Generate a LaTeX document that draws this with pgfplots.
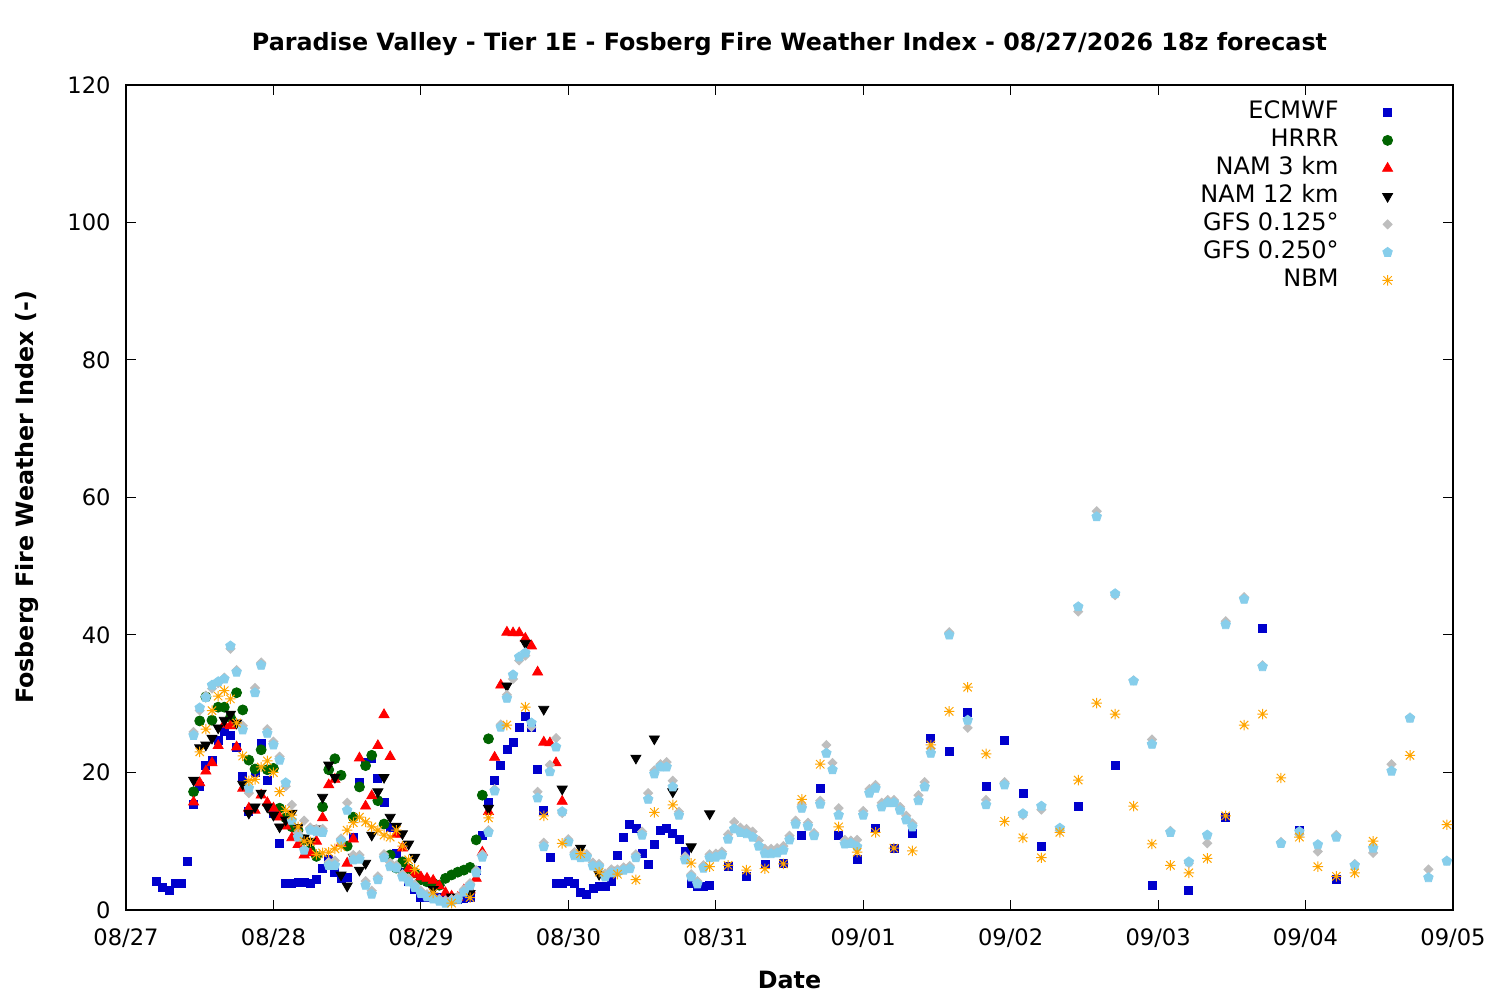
\documentclass[border=0pt]{standalone}
\usepackage{fontspec}
\setmainfont{DejaVu Sans}
\usepackage{pgfplots}
\pgfplotsset{compat=1.18}
\usetikzlibrary{plotmarks}
\definecolor{cEC}{HTML}{0000CC}
\definecolor{cHR}{HTML}{006400}
\definecolor{cN3}{HTML}{FF0000}
\definecolor{cN12}{HTML}{000000}
\definecolor{cG1}{HTML}{BEBEBE}
\definecolor{cG2}{HTML}{87CEEB}
\definecolor{cNB}{HTML}{FFA500}
\pgfdeclareplotmark{gpstar}{%
  \pgfpathmoveto{\pgfqpoint{-\pgfplotmarksize}{0pt}}\pgfpathlineto{\pgfqpoint{\pgfplotmarksize}{0pt}}%
  \pgfpathmoveto{\pgfqpoint{0pt}{-\pgfplotmarksize}}\pgfpathlineto{\pgfqpoint{0pt}{\pgfplotmarksize}}%
  \pgfpathmoveto{\pgfqpoint{-.8\pgfplotmarksize}{-.8\pgfplotmarksize}}\pgfpathlineto{\pgfqpoint{.8\pgfplotmarksize}{.8\pgfplotmarksize}}%
  \pgfpathmoveto{\pgfqpoint{-.8\pgfplotmarksize}{.8\pgfplotmarksize}}\pgfpathlineto{\pgfqpoint{.8\pgfplotmarksize}{-.8\pgfplotmarksize}}%
  \pgfusepathqstroke}
\newcommand{\fs}{\fontsize{11.3}{13.6}\selectfont}
\newcommand{\fl}{\fontsize{12}{14}\selectfont}
\newcommand{\fb}{\fontsize{11.9}{14.2}\selectfont\bfseries}
\begin{document}
\begin{tikzpicture}
\path[use as bounding box, fill=white] (0,0) rectangle (750pt,500pt);
\begin{axis}[
  at={(63pt,45pt)}, anchor=south west,
  scale only axis, width=663.5pt, height=412.5pt,
  xmin=0, xmax=216, ymin=0, ymax=120,
  xtick={0,24,...,216},
  xticklabels={08/27,08/28,08/29,08/30,08/31,09/01,09/02,09/03,09/04,09/05},
  ytick={0,20,...,120},
  /pgf/number format/assume math mode=true,
  tick align=inside, major tick length=5pt,
  tick style={line width=0.5pt, black},
  axis line style={line width=0.6pt},
  every tick label/.append style={font=\fs},
  yticklabel style={anchor=east, xshift=-4.2pt},
  xticklabel style={anchor=center, yshift=-14pt},
  title={Paradise Valley - Tier 1E - Fosberg Fire Weather Index - 08/27/2026 18z forecast},
  title style={font=\fb, at={(axis description cs:0.5,1.0352)}, anchor=center},
  xlabel={Date},
  xlabel style={font=\fb, at={(axis description cs:0.5,-0.0848)}, anchor=center},
  ylabel={Fosberg Fire Weather Index (-)},
  ylabel style={font=\fb, at={(axis description cs:-0.0746,0.5)}, anchor=center},
  legend plot pos=right,
  legend cell align=right,
  legend image code/.code={\path[draw=none] (0pt,0pt) -- (26.5pt,0pt); \path[#1, draw=none] plot[only marks] coordinates {(22.5pt,0pt)};},
  legend style={at={(axis description cs:1,1)}, anchor=north east, xshift=-28.5pt, yshift=-6.5pt,
    draw=none, fill=none, inner sep=0pt, font=\fl,
    nodes={text height=8.8pt, text depth=2.4pt, inner ysep=1.4pt}},
]
% ECMWF
\addplot[only marks, mark=square*, mark size=2pt, color=cEC] table {
5 4.1
6 3.3
7 2.8
8 3.8
9 3.9
10 7.1
11 15.4
12 18.0
13 21.0
14 21.8
15 24.7
16 26.0
17 25.4
18 23.6
19 19.5
20 14.4
21 20.0
22 24.3
23 18.9
24 14.0
25 9.7
26 3.9
27 3.9
28 4.0
29 4.0
30 3.8
31 4.5
32 6.0
33 7.3
34 5.4
35 4.6
36 4.7
37 10.5
38 18.6
39 21.5
40 22.0
41 19.2
42 15.7
43 12.0
44 8.3
45 5.5
46 4.1
47 3.0
48 1.9
49 1.9
50 1.9
51 1.8
52 1.9
53 1.7
54 1.5
55 1.7
56 1.9
57 5.8
58 10.9
59 15.7
60 18.9
61 21.0
62 23.3
63 24.4
64 26.5
65 28.1
66 26.5
67 20.5
68 14.5
69 7.7
70 3.8
71 3.8
72 4.1
73 3.8
74 2.6
75 2.3
76 3.2
77 3.5
78 3.5
79 4.1
80 8.0
81 10.5
82 12.4
83 11.8
84 8.3
85 6.7
86 9.5
87 11.6
88 11.8
89 11.1
90 10.3
91 8.5
92 3.8
93 3.4
94 3.5
95 3.6
98 6.3
101 4.9
104 6.7
107 6.8
110 10.9
113 17.7
116 10.8
119 7.4
122 11.9
125 9.0
128 11.2
131 24.9
134 23.1
137 28.7
140 18.0
143 24.6
146 17.0
149 9.3
155 15.0
161 21.1
167 3.6
173 2.9
179 13.4
185 41.0
191 11.6
197 4.4
};
\addlegendentry{ECMWF}
% HRRR
\addplot[only marks, mark=*, mark size=2.5pt, color=cHR] table {
11 17.2
12 27.5
13 31.0
14 27.6
15 29.5
16 29.5
17 28.0
18 31.6
19 29.1
20 21.8
21 20.5
22 23.3
23 20.4
24 20.6
25 14.8
26 13.4
27 12.1
28 11.6
29 10.2
30 8.7
31 7.8
32 15.0
33 20.4
34 22.0
35 19.6
36 9.3
37 13.5
38 17.9
39 21.0
40 22.5
41 15.9
42 12.5
43 8.0
44 6.1
45 7.0
46 6.0
47 5.4
48 4.4
49 4.1
50 3.9
51 3.6
52 4.6
53 5.1
54 5.5
55 5.8
56 6.2
57 10.2
58 16.7
59 24.9
};
\addlegendentry{HRRR}
% NAM 3 km
\addplot[only marks, mark=triangle*, mark size=2.9pt, color=cN3] table {
11 15.7
12 18.5
13 20.2
14 21.4
15 23.9
16 27.0
17 26.8
18 23.7
19 17.7
20 14.8
21 14.5
22 16.7
23 15.6
24 14.8
25 13.5
26 12.2
27 10.5
28 9.5
29 8.0
30 8.3
31 10.0
32 13.4
33 18.2
34 19.0
35 9.7
36 6.8
37 10.3
38 22.1
39 15.1
40 16.6
41 23.9
42 28.4
43 22.3
44 11.0
45 9.0
46 6.0
47 5.2
48 4.8
49 4.6
50 4.3
51 3.5
52 2.5
53 2.0
54 1.8
55 2.9
56 2.9
57 4.6
58 8.4
59 14.3
60 22.2
61 32.7
62 40.4
63 40.3
64 40.3
65 39.5
66 38.4
67 34.6
68 24.4
69 24.3
70 21.4
71 15.8
};
\addlegendentry{NAM 3 km}
% NAM 12 km
\addplot[only marks, mark=triangle*, mark size=2.9pt, mark options={rotate=180}, color=cN12] table {
11 18.9
12 23.6
13 24.0
14 25.0
15 26.5
16 27.6
17 28.5
18 27.2
19 18.3
20 14.1
21 15.0
22 17.0
23 15.0
24 13.8
25 12.1
26 13.1
27 14.1
28 12.0
29 10.5
30 10.0
31 11.8
32 16.4
33 21.1
34 19.3
35 5.1
36 3.5
37 7.7
38 5.8
39 6.8
40 10.9
41 17.2
42 19.3
43 13.5
44 12.2
45 11.1
46 9.6
47 7.7
50 3.0
53 1.9
56 2.4
59 14.8
62 32.6
65 38.8
68 29.2
71 17.6
74 9.0
77 5.2
80 5.8
83 22.1
86 24.9
89 17.2
92 9.2
95 14.0
};
\addlegendentry{NAM 12 km}
% GFS 0.125
\addplot[only marks, mark=square*, mark size=1.6pt, mark options={rotate=45}, color=cG1] table {
11 25.9
12 29.0
13 31.2
14 32.2
15 33.0
16 33.8
17 38.0
18 34.9
19 26.8
20 17.0
21 32.3
22 36.0
23 26.3
24 24.5
25 22.3
26 18.0
27 15.3
28 11.2
29 13.0
30 12.0
31 11.8
32 11.8
33 7.0
34 7.2
35 10.4
36 15.6
37 8.0
38 8.0
39 4.2
40 2.8
41 4.9
42 8.1
43 6.9
44 6.5
45 5.2
46 4.6
47 3.7
48 2.8
49 2.3
50 1.9
51 1.6
52 1.4
53 1.6
54 1.9
55 3.0
56 3.9
57 5.8
58 8.1
59 11.6
60 17.6
61 27.0
62 31.3
63 33.6
64 36.3
65 37.0
66 26.6
67 17.2
68 9.8
69 21.1
70 25.0
71 14.1
72 10.3
73 8.4
74 8.0
75 8.1
76 6.9
77 6.7
78 5.3
79 5.9
80 5.9
81 6.2
82 6.4
83 8.1
84 11.4
85 17.0
86 20.3
87 21.2
88 21.5
89 18.8
90 14.3
91 7.8
92 5.2
93 4.2
94 6.5
95 8.1
96 8.2
97 8.5
98 11.0
99 12.8
100 12.0
101 11.8
102 11.4
103 10.1
104 8.9
105 8.9
106 9.0
107 9.3
108 10.8
109 13.0
110 15.3
111 12.7
112 11.2
113 15.9
114 24.0
115 21.4
116 14.8
117 10.2
118 10.1
119 10.2
120 14.4
121 17.6
122 18.2
123 15.6
124 16.0
125 16.0
126 15.0
127 13.7
128 12.6
129 16.7
130 18.6
131 23.5
134 40.4
137 26.5
140 16.0
143 18.6
146 13.8
149 14.6
152 11.6
155 43.4
158 58.0
161 45.8
164 33.4
167 24.8
170 11.5
173 6.8
176 9.7
179 42.0
182 45.5
185 35.6
188 9.9
191 11.0
194 8.5
197 10.9
200 6.7
203 8.3
206 21.2
209 28.0
212 5.9
215 7.2
};
\addlegendentry{GFS 0.125°}
% GFS 0.250
\addplot[only marks, mark=pentagon*, mark size=2.5pt, color=cG2] table {
11 25.4
12 29.4
13 30.9
14 32.7
15 33.2
16 33.6
17 38.4
18 34.6
19 26.2
20 17.7
21 31.6
22 35.6
23 25.7
24 24.0
25 21.8
26 18.5
27 13.0
28 10.6
29 8.7
30 11.6
31 11.4
32 11.3
33 6.5
34 6.5
35 10.0
36 14.5
37 7.3
38 7.4
39 3.6
40 2.3
41 4.4
42 7.6
43 6.3
44 6.1
45 4.8
46 4.1
47 3.3
48 2.4
49 1.9
50 1.6
51 1.3
52 1.0
53 1.2
54 1.5
55 2.6
56 3.5
57 5.4
58 7.7
59 11.3
60 17.3
61 26.6
62 30.8
63 34.2
64 36.8
65 37.4
66 27.2
67 16.3
68 9.2
69 20.1
70 23.7
71 14.3
72 9.9
73 7.9
74 7.6
75 7.7
76 6.4
77 6.3
78 4.8
79 5.4
80 5.5
81 5.8
82 6.0
83 7.6
84 10.9
85 16.1
86 19.8
87 20.8
88 20.8
89 17.9
90 13.8
91 7.3
92 4.8
93 3.8
94 6.1
95 7.6
96 7.7
97 8.0
98 10.3
99 11.8
100 11.3
101 11.1
102 10.6
103 9.3
104 8.2
105 8.2
106 8.3
107 8.7
108 10.2
109 12.5
110 14.8
111 12.2
112 10.8
113 15.4
114 22.8
115 20.4
116 13.8
117 9.6
118 9.7
119 9.2
120 13.8
121 17.0
122 17.7
123 15.0
124 15.6
125 15.6
126 14.5
127 13.1
128 12.1
129 15.9
130 17.9
131 22.8
134 40.0
137 27.6
140 15.3
143 18.2
146 14.0
149 15.1
152 11.9
155 44.1
158 57.2
161 46.0
164 33.3
167 24.1
170 11.3
173 7.0
176 10.9
179 41.5
182 45.2
185 35.4
188 9.7
191 11.4
194 9.5
197 10.6
200 6.5
203 9.0
206 20.2
209 27.9
212 4.7
215 7.1
};
\addlegendentry{GFS 0.250°}
% NBM
\addplot[only marks, mark=gpstar, mark size=2.6pt, mark options={line width=0.5pt}, color=cNB] table {
12 23.0
13 26.3
14 29.0
15 31.1
16 31.9
17 30.7
18 27.2
19 22.4
20 18.8
21 19.0
22 20.8
23 21.7
24 20.0
25 17.2
26 14.5
27 13.8
28 12.1
29 10.0
30 9.9
31 8.1
32 8.3
33 8.4
34 8.9
35 9.2
36 11.6
37 12.7
38 13.5
39 12.8
40 12.1
41 11.6
42 10.9
43 10.6
44 11.6
45 9.3
46 7.3
47 5.9
50 2.5
53 1.0
56 1.8
59 13.4
62 26.9
65 29.5
68 13.7
71 9.7
74 8.2
77 5.5
80 5.2
83 4.4
86 14.2
89 15.3
92 6.8
95 6.3
98 6.5
101 5.8
104 6.0
107 6.7
110 16.1
113 21.2
116 12.1
119 8.4
122 11.3
125 9.0
128 8.6
131 24.0
134 28.9
137 32.4
140 22.7
143 12.9
146 10.5
149 7.6
152 11.3
155 18.9
158 30.1
161 28.5
164 15.1
167 9.6
170 6.5
173 5.4
176 7.5
179 13.7
182 26.9
185 28.5
188 19.2
191 10.6
194 6.3
197 4.9
200 5.4
203 10.0
209 22.5
215 12.4
};
\addlegendentry{NBM}
\end{axis}
\end{tikzpicture}
\end{document}
